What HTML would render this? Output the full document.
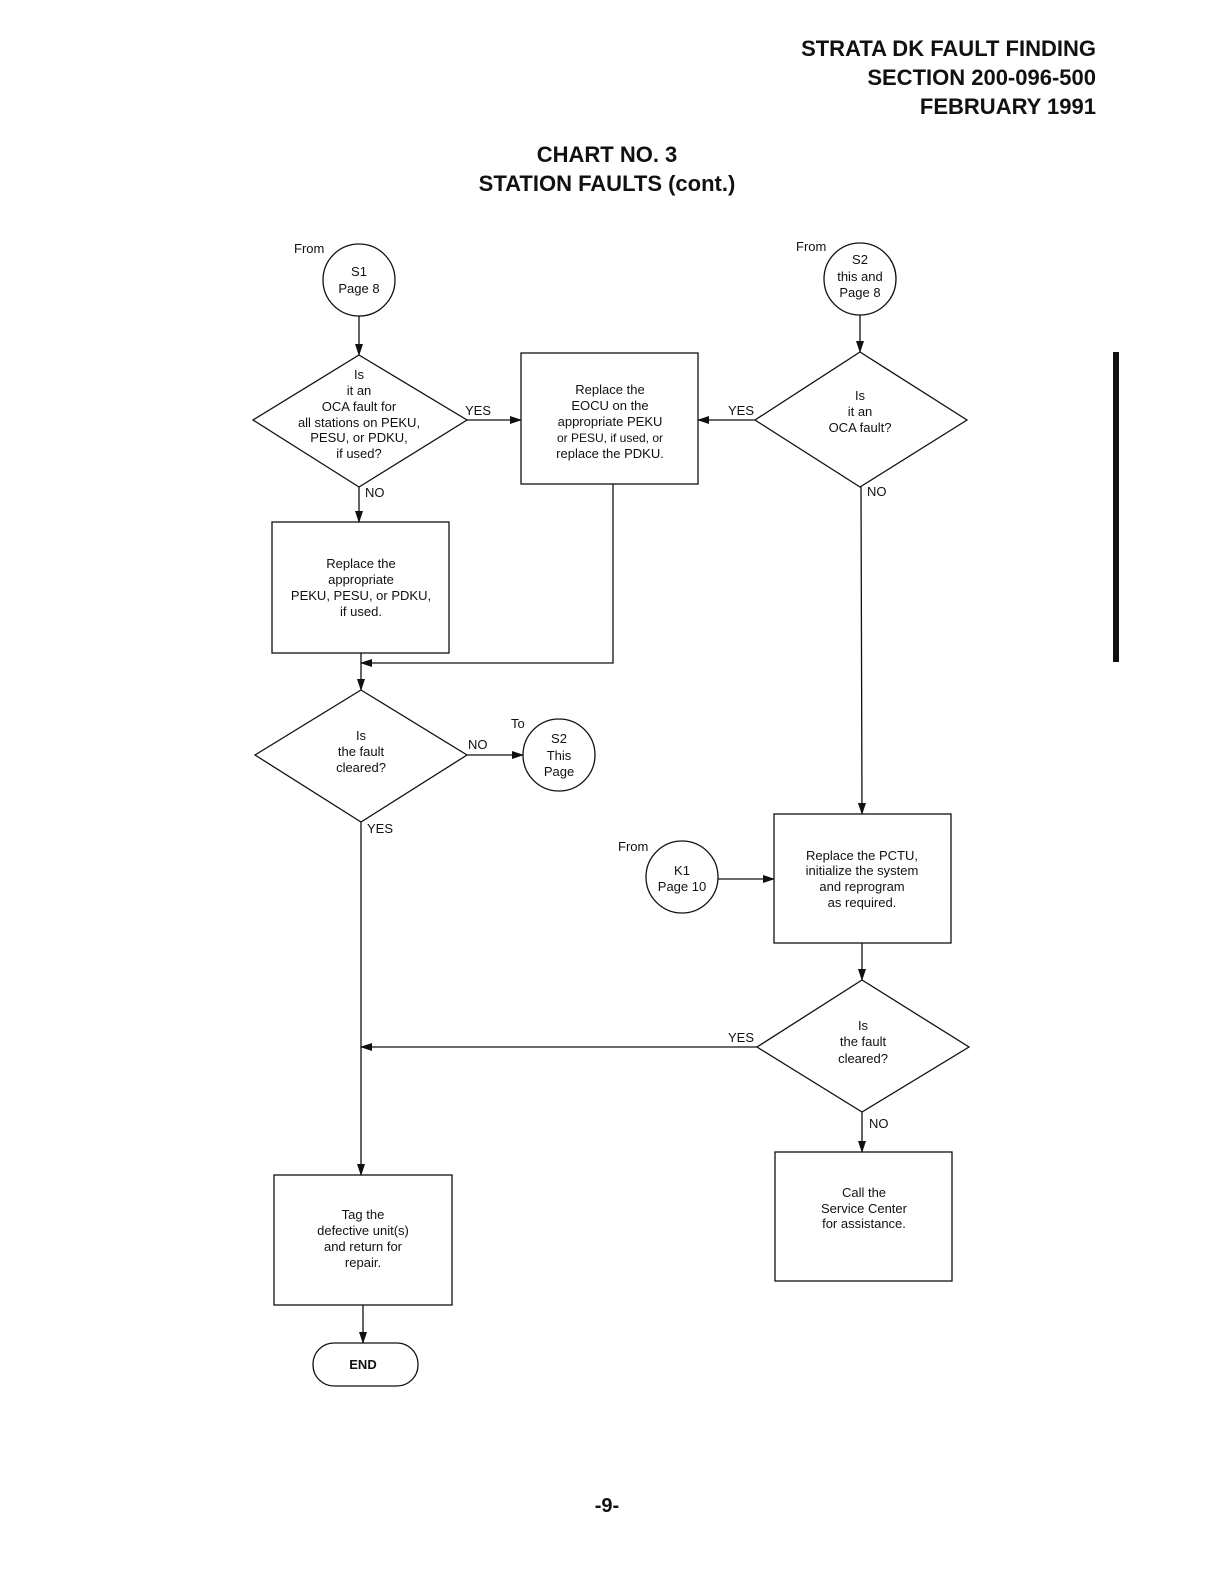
<!DOCTYPE html>
<html><head><meta charset="utf-8"><style>
html,body{margin:0;padding:0;background:#fff;}
svg{display:block;}
text{font-family:"Liberation Sans",sans-serif;fill:#111;}
.s{font-size:13px;text-anchor:middle;}
.l{font-size:13px;}
.h{font-size:22px;font-weight:bold;text-anchor:end;font-stretch:condensed;}
.t{font-size:22px;font-weight:bold;text-anchor:middle;}
</style></head><body>
<svg width="1229" height="1596" viewBox="0 0 1229 1596" xmlns="http://www.w3.org/2000/svg">
<defs><marker id="a" markerWidth="12" markerHeight="8" refX="11" refY="4" orient="auto" markerUnits="userSpaceOnUse"><path d="M0,0 L12,4 L0,8 z" fill="#111"/></marker></defs>
<text class="h" x="1096" y="56" transform="scale(1,1)">STRATA DK FAULT FINDING</text>
<text class="h" x="1096" y="85">SECTION 200-096-500</text>
<text class="h" x="1096" y="114">FEBRUARY 1991</text>
<text class="t" x="607" y="162">CHART NO. 3</text>
<text class="t" x="607" y="191">STATION FAULTS (cont.)</text>
<rect x="1113" y="352" width="6" height="310" fill="#111"/>
<g fill="none" stroke="#111" stroke-width="1.3">
<circle cx="359" cy="280" r="36"/>
<circle cx="860" cy="279" r="36"/>
<circle cx="559" cy="755" r="36"/>
<circle cx="682" cy="877" r="36"/>
<polygon points="359,355 467,420 359,487 253,420"/>
<polygon points="860,352 967,420 860,487 755,420"/>
<polygon points="361,690 467,755 361,822 255,755"/>
<polygon points="862,980 969,1047 862,1112 757,1047"/>
<rect x="521" y="353" width="177" height="131"/>
<rect x="272" y="522" width="177" height="131"/>
<rect x="774" y="814" width="177" height="129"/>
<rect x="775" y="1152" width="177" height="129"/>
<rect x="274" y="1175" width="178" height="130"/>
<rect x="313" y="1343" width="105" height="43" rx="21"/>
<line x1="359" y1="316" x2="359" y2="355" marker-end="url(#a)"/>
<line x1="467" y1="420" x2="521" y2="420" marker-end="url(#a)"/>
<line x1="860" y1="315" x2="860" y2="352" marker-end="url(#a)"/>
<line x1="755" y1="420" x2="698" y2="420" marker-end="url(#a)"/>
<line x1="861" y1="487" x2="862" y2="814" marker-end="url(#a)"/>
<line x1="359" y1="487" x2="359" y2="522" marker-end="url(#a)"/>
<polyline points="613,484 613,663 361,663" marker-end="url(#a)"/>
<line x1="361" y1="653" x2="361" y2="690" marker-end="url(#a)"/>
<line x1="467" y1="755" x2="523" y2="755" marker-end="url(#a)"/>
<line x1="361" y1="822" x2="361" y2="1175" marker-end="url(#a)"/>
<line x1="718" y1="879" x2="774" y2="879" marker-end="url(#a)"/>
<line x1="862" y1="943" x2="862" y2="980" marker-end="url(#a)"/>
<line x1="757" y1="1047" x2="361" y2="1047" marker-end="url(#a)"/>
<line x1="862" y1="1112" x2="862" y2="1152" marker-end="url(#a)"/>
<line x1="363" y1="1305" x2="363" y2="1343" marker-end="url(#a)"/>
</g>
<text class="l" x="294" y="253">From</text>
<text class="s" x="359" y="276">S1</text><text class="s" x="359" y="293">Page 8</text>
<text class="l" x="796" y="251">From</text>
<text class="s" x="860" y="264">S2</text><text class="s" x="860" y="281">this and</text><text class="s" x="860" y="297">Page 8</text>
<text class="s" x="359" y="379">Is</text><text class="s" x="359" y="395">it an</text><text class="s" x="359" y="411">OCA fault for</text><text class="s" x="359" y="427">all stations on PEKU,</text><text class="s" x="359" y="442">PESU, or PDKU,</text><text class="s" x="359" y="458">if used?</text>
<text class="l" x="465" y="415">YES</text>
<text class="s" x="610" y="394">Replace the</text><text class="s" x="610" y="410">EOCU on the</text><text class="s" x="610" y="426">appropriate PEKU</text><text class="s" x="610" y="442" style="font-size:12px">or PESU, if used, or</text><text class="s" x="610" y="458">replace the PDKU.</text>
<text class="l" x="728" y="415">YES</text>
<text class="s" x="860" y="400">Is</text><text class="s" x="860" y="416">it an</text><text class="s" x="860" y="432">OCA fault?</text>
<text class="l" x="867" y="496">NO</text>
<text class="l" x="365" y="497">NO</text>
<text class="s" x="361" y="568">Replace the</text><text class="s" x="361" y="584">appropriate</text><text class="s" x="361" y="600">PEKU, PESU, or PDKU,</text><text class="s" x="361" y="616">if used.</text>
<text class="s" x="361" y="740">Is</text><text class="s" x="361" y="756">the fault</text><text class="s" x="361" y="772">cleared?</text>
<text class="l" x="468" y="749">NO</text>
<text class="l" x="511" y="728">To</text>
<text class="s" x="559" y="743">S2</text><text class="s" x="559" y="760">This</text><text class="s" x="559" y="776">Page</text>
<text class="l" x="367" y="833">YES</text>
<text class="l" x="618" y="851">From</text>
<text class="s" x="682" y="875">K1</text><text class="s" x="682" y="891">Page 10</text>
<text class="s" x="862" y="860">Replace the PCTU,</text><text class="s" x="862" y="875">initialize the system</text><text class="s" x="862" y="891">and reprogram</text><text class="s" x="862" y="907">as required.</text>
<text class="s" x="863" y="1030">Is</text><text class="s" x="863" y="1046">the fault</text><text class="s" x="863" y="1063">cleared?</text>
<text class="l" x="728" y="1042">YES</text>
<text class="l" x="869" y="1128">NO</text>
<text class="s" x="864" y="1197">Call the</text><text class="s" x="864" y="1213">Service Center</text><text class="s" x="864" y="1228">for assistance.</text>
<text class="s" x="363" y="1219">Tag the</text><text class="s" x="363" y="1235">defective unit(s)</text><text class="s" x="363" y="1251">and return for</text><text class="s" x="363" y="1267">repair.</text>
<text class="s" x="363" y="1369" style="font-weight:bold">END</text>
<text class="t" x="607" y="1512" style="font-size:20px">-9-</text>
</svg>
</body></html>
